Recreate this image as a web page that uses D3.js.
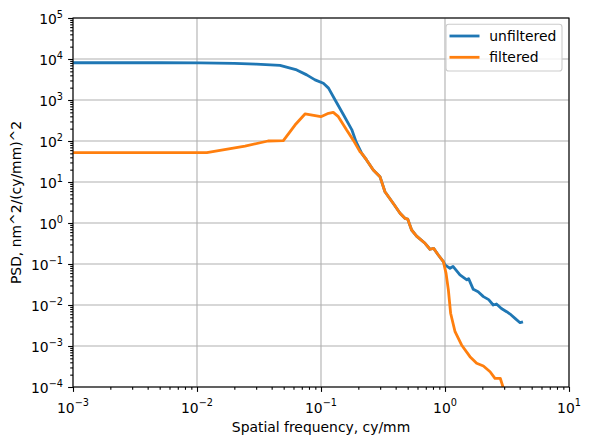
<!DOCTYPE html>
<html>
<head>
<meta charset="utf-8">
<script src="https://cdn.jsdelivr.net/npm/d3@7"></script>
<style>
  html, body { margin: 0; padding: 0; background: #fff; }
  svg { display: block; font-family: "DejaVu Sans", sans-serif; }
</style>
</head>
<body>
<svg id="chart" width="591" height="445"></svg>
<script>
// ---- data ----
const freqUnfiltered = [0.001, 0.005, 0.0105, 0.02, 0.03, 0.0467, 0.0637, 0.0767, 0.0895, 0.1045, 0.115, 0.130, 0.151, 0.177, 0.192,
  0.213, 0.233, 0.264, 0.299, 0.328, 0.383, 0.434, 0.475, 0.50, 0.538, 0.59, 0.69, 0.757, 0.81, 0.883, 0.97,
  1.0, 1.097, 1.16, 1.32, 1.50, 1.55, 1.69, 1.85, 2.04, 2.25, 2.45, 2.6, 2.85, 3.14, 3.4, 3.67, 4.03, 4.15];
const psdUnfiltered = [8100, 8100, 8050, 7800, 7500, 7000, 5400, 4100, 3100, 2550, 1950, 1000, 450, 190, 95,
  50, 34.5, 19.6, 13.5, 5.8, 3.0, 1.73, 1.30, 1.25, 0.675, 0.48, 0.32, 0.229, 0.24, 0.166, 0.114,
  0.095, 0.0785, 0.087, 0.054, 0.041, 0.044, 0.0241, 0.021, 0.016, 0.0135, 0.010, 0.0106, 0.0082, 0.00687, 0.0058, 0.00473, 0.0037, 0.0038];

const freqFiltered = [0.001, 0.012, 0.0244, 0.0374, 0.0497, 0.0617, 0.0743, 0.0998, 0.115, 0.1256, 0.138, 0.161, 0.182, 0.206,
  0.213, 0.233, 0.264, 0.299, 0.328, 0.383, 0.434, 0.475, 0.50, 0.538, 0.59, 0.69, 0.757, 0.81, 0.883, 0.97,
  1.02, 1.065, 1.11, 1.205, 1.36, 1.59, 1.80, 2.04, 2.31, 2.53, 2.79, 3.1];
const psdFiltered = [52, 52, 75, 100, 102, 245, 457, 392, 473, 500, 392, 185, 105, 55,
  50, 34.5, 19.6, 13.5, 5.8, 3.0, 1.73, 1.30, 1.25, 0.675, 0.48, 0.32, 0.229, 0.24, 0.166, 0.114,
  0.059, 0.023, 0.0063, 0.00223, 0.00106, 0.00055, 0.00038, 0.000325, 0.000236, 0.000163, 0.000163, 0.00006];

const xTickExponents = [-3, -2, -1, 0, 1];
const yTickExponents = [-4, -3, -2, -1, 0, 1, 2, 3, 4, 5];
const seriesNames = ["unfiltered", "filtered"];
const seriesColors = ["#1f77b4", "#ff7f0e"];
const xLabel = "Spatial frequency, cy/mm";
const yLabel = "PSD, nm^2/(cy/mm)^2";

// ---- layout ----
const svg = d3.select("#chart");
const L = 73, R = 569, T = 18, B = 387;
const x = d3.scaleLog().domain([1e-3, 1e1]).range([L, R]);
const y = d3.scaleLog().domain([1e-4, 1e5]).range([B, T]);
const fs = 13.9;
const lw = 2.8;

svg.append("defs").append("clipPath").attr("id", "clip")
  .append("rect").attr("x", L).attr("y", T).attr("width", R - L).attr("height", B - T);

// grid
const grid = svg.append("g");
xTickExponents.forEach(e => {
  grid.append("line").attr("x1", x(10 ** e)).attr("x2", x(10 ** e)).attr("y1", T).attr("y2", B)
    .attr("stroke", "#b0b0b0").attr("stroke-width", 1.1);
});
yTickExponents.forEach(e => {
  grid.append("line").attr("y1", y(10 ** e)).attr("y2", y(10 ** e)).attr("x1", L).attr("x2", R)
    .attr("stroke", "#b0b0b0").attr("stroke-width", 1.1);
});

function minors(lo, hi) {
  const out = [];
  for (let e = lo; e < hi; e++) for (let m = 2; m <= 9; m++) out.push(m * 10 ** e);
  return out;
}

const xMajor = xTickExponents.map(e => 10 ** e);
const yMajor = yTickExponents.map(e => 10 ** e);

// axes
const gx = svg.append("g").attr("transform", `translate(0,${B})`)
  .call(d3.axisBottom(x).tickValues(xMajor).tickSize(4.9).tickFormat(""));
const gxm = svg.append("g").attr("transform", `translate(0,${B})`)
  .call(d3.axisBottom(x).tickValues(minors(-3, 1)).tickSize(2.8).tickFormat(""));
const gy = svg.append("g").attr("transform", `translate(${L},0)`)
  .call(d3.axisLeft(y).tickValues(yMajor).tickSize(4.9).tickFormat(""));
const gym = svg.append("g").attr("transform", `translate(${L},0)`)
  .call(d3.axisLeft(y).tickValues(minors(-4, 5)).tickSize(2.8).tickFormat(""));
[gx, gxm, gy, gym].forEach(g => {
  g.select(".domain").remove();
  g.selectAll(".tick line").attr("stroke", "#000").attr("stroke-width", 1.1);
});

function expLabel(sel, e) {
  sel.append("tspan").text("10");
  sel.append("tspan").attr("dy", -6.3).attr("font-size", fs * 0.7).text(e < 0 ? "\u2212" + Math.abs(e) : String(e));
}

xTickExponents.forEach(e => {
  const t = svg.append("text").attr("x", x(10 ** e)).attr("y", 412.7)
    .attr("text-anchor", "middle").attr("font-size", fs).attr("fill", "#000");
  expLabel(t, e);
});
yTickExponents.forEach(e => {
  const t = svg.append("text").attr("x", 63).attr("y", y(10 ** e) + 6)
    .attr("text-anchor", "end").attr("font-size", fs).attr("fill", "#000");
  expLabel(t, e);
});

// lines
const line = d3.line().x(d => x(d[0])).y(d => y(d[1]));
const series = [
  freqUnfiltered.map((f, i) => [f, psdUnfiltered[i]]),
  freqFiltered.map((f, i) => [f, psdFiltered[i]])
];
const plot = svg.append("g").attr("clip-path", "url(#clip)");
series.forEach((s, i) => {
  plot.append("path").datum(s).attr("d", line).attr("fill", "none")
    .attr("stroke", seriesColors[i]).attr("stroke-width", lw)
    .attr("stroke-linejoin", "round").attr("stroke-linecap", "square");
});

// frame
svg.append("rect").attr("x", L).attr("y", T).attr("width", R - L).attr("height", B - T)
  .attr("fill", "none").attr("stroke", "#000").attr("stroke-width", 1.1);

// axis labels
svg.append("text").attr("x", (L + R) / 2).attr("y", 432).attr("text-anchor", "middle")
  .attr("font-size", fs).attr("fill", "#000").text(xLabel);
svg.append("text").attr("transform", `translate(21,${(T + B) / 2}) rotate(-90)`)
  .attr("text-anchor", "middle").attr("font-size", fs).attr("fill", "#000").text(yLabel);

// legend
const lg = svg.append("g");
lg.append("rect").attr("x", 446).attr("y", 24.3).attr("width", 116).attr("height", 46.7)
  .attr("rx", 2.8).attr("fill", "rgba(255,255,255,0.8)").attr("stroke", "#cccccc").attr("stroke-width", 1.1);
seriesNames.forEach((n, i) => {
  const cy = 36 + i * 21.3;
  lg.append("line").attr("x1", 449.5).attr("x2", 479.5).attr("y1", cy).attr("y2", cy)
    .attr("stroke", seriesColors[i]).attr("stroke-width", lw);
  lg.append("text").attr("x", 489.3).attr("y", cy + 5).attr("font-size", fs).attr("fill", "#000").text(n);
});
</script>
</body>
</html>
